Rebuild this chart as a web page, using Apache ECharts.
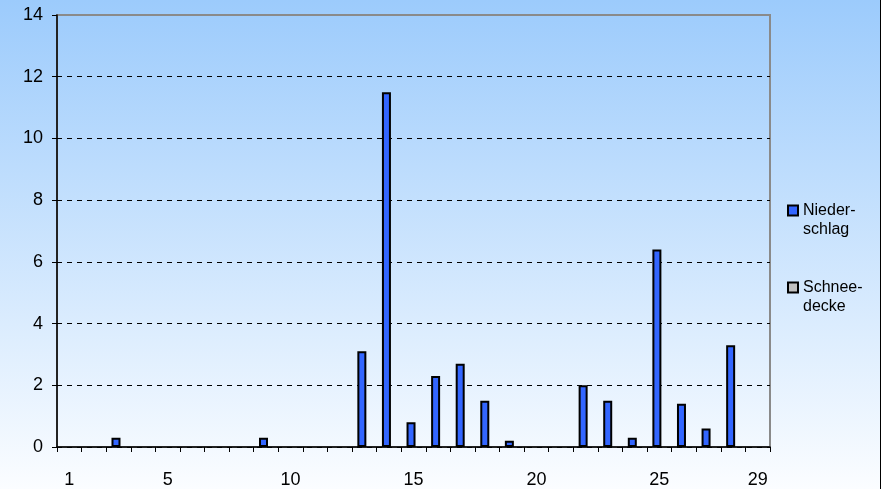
<!DOCTYPE html>
<html>
<head>
<meta charset="utf-8">
<script src="https://cdn.jsdelivr.net/npm/echarts@6/dist/echarts.min.js"></script>
<style>
html,body{margin:0;padding:0;background:#fff;}
#wrap{width:881px;height:489px;box-sizing:border-box;border-right:1px solid #000;}
#chart{width:880px;height:489px;}
</style>
</head>
<body>
<div id="wrap"><div id="chart"></div></div>
<script>
const days = ['1','2','3','4','5','6','7','8','9','10','11','12','13','14','15','16','17','18','19','20','21','22','23','24','25','26','27','28','29'];
const shownDayLabels = ['1','5','10','15','20','25','29'];
const niederschlag = [null,null,0.3,null,null,null,null,null,0.3,null,null,null,3.1,11.5,0.8,2.3,2.7,1.5,0.2,null,null,2.0,1.5,0.3,6.4,1.4,0.6,3.3,null];
const schneedecke = [null,null,null,null,null,null,null,null,null,null,null,null,null,null,null,null,null,null,null,null,null,null,null,null,null,null,null,null,null];
const seriesNames = ['Niederschlag','Schneedecke'];
const legendLabels = {'Niederschlag':'Nieder-\nschlag','Schneedecke':'Schnee-\ndecke'};

const FONT = 'Liberation Sans, Arial, sans-serif';
const chart = echarts.init(document.getElementById('chart'));
chart.setOption({
  animation:false,
  backgroundColor:{type:'linear',x:0,y:0,x2:0,y2:1,colorStops:[{offset:0,color:'#9CCBFC'},{offset:1,color:'#FBFDFF'}]},
  textStyle:{fontFamily:FONT},
  grid:{left:57,right:110,top:15,bottom:42,show:true,borderColor:'#8A8A8A',borderWidth:2,backgroundColor:'transparent'},
  legend:{
    orient:'vertical',left:787,top:182,padding:0,itemWidth:10,itemHeight:10,itemGap:20,
    icon:'rect',
    data:seriesNames,
    formatter:n=>'\n'+legendLabels[n],
    itemStyle:{borderColor:'#000',borderWidth:2},
    textStyle:{fontFamily:FONT,fontSize:16,color:'#000',lineHeight:19}
  },
  xAxis:{
    type:'category',data:days,boundaryGap:true,
    axisLine:{lineStyle:{color:'#000',width:1.5}},
    axisTick:{show:true,interval:0,length:5,lineStyle:{color:'#000'}},
    axisLabel:{interval:(i,v)=>shownDayLabels.includes(v),color:'#000',fontSize:18,fontFamily:FONT,margin:24},
    splitLine:{show:false}
  },
  yAxis:{
    type:'value',min:0,max:14,interval:2,
    axisLine:{show:true,lineStyle:{color:'#000',width:1.5}},
    axisTick:{show:true,length:5,lineStyle:{color:'#000'}},
    axisLabel:{color:'#000',fontSize:18,fontFamily:FONT,margin:14},
    splitLine:{show:true,showMaxLine:false,lineStyle:{color:'#000',type:[5,5],width:1}}
  },
  series:[
    {name:'Niederschlag',type:'bar',data:niederschlag,barWidth:9,barGap:'-45%',
     itemStyle:{color:'#3366FF',borderColor:'#000',borderWidth:2}},
    {name:'Schneedecke',type:'bar',data:schneedecke,barWidth:9,
     itemStyle:{color:'#C0C0C0',borderColor:'#000',borderWidth:2}}
  ]
});
</script>
</body>
</html>
